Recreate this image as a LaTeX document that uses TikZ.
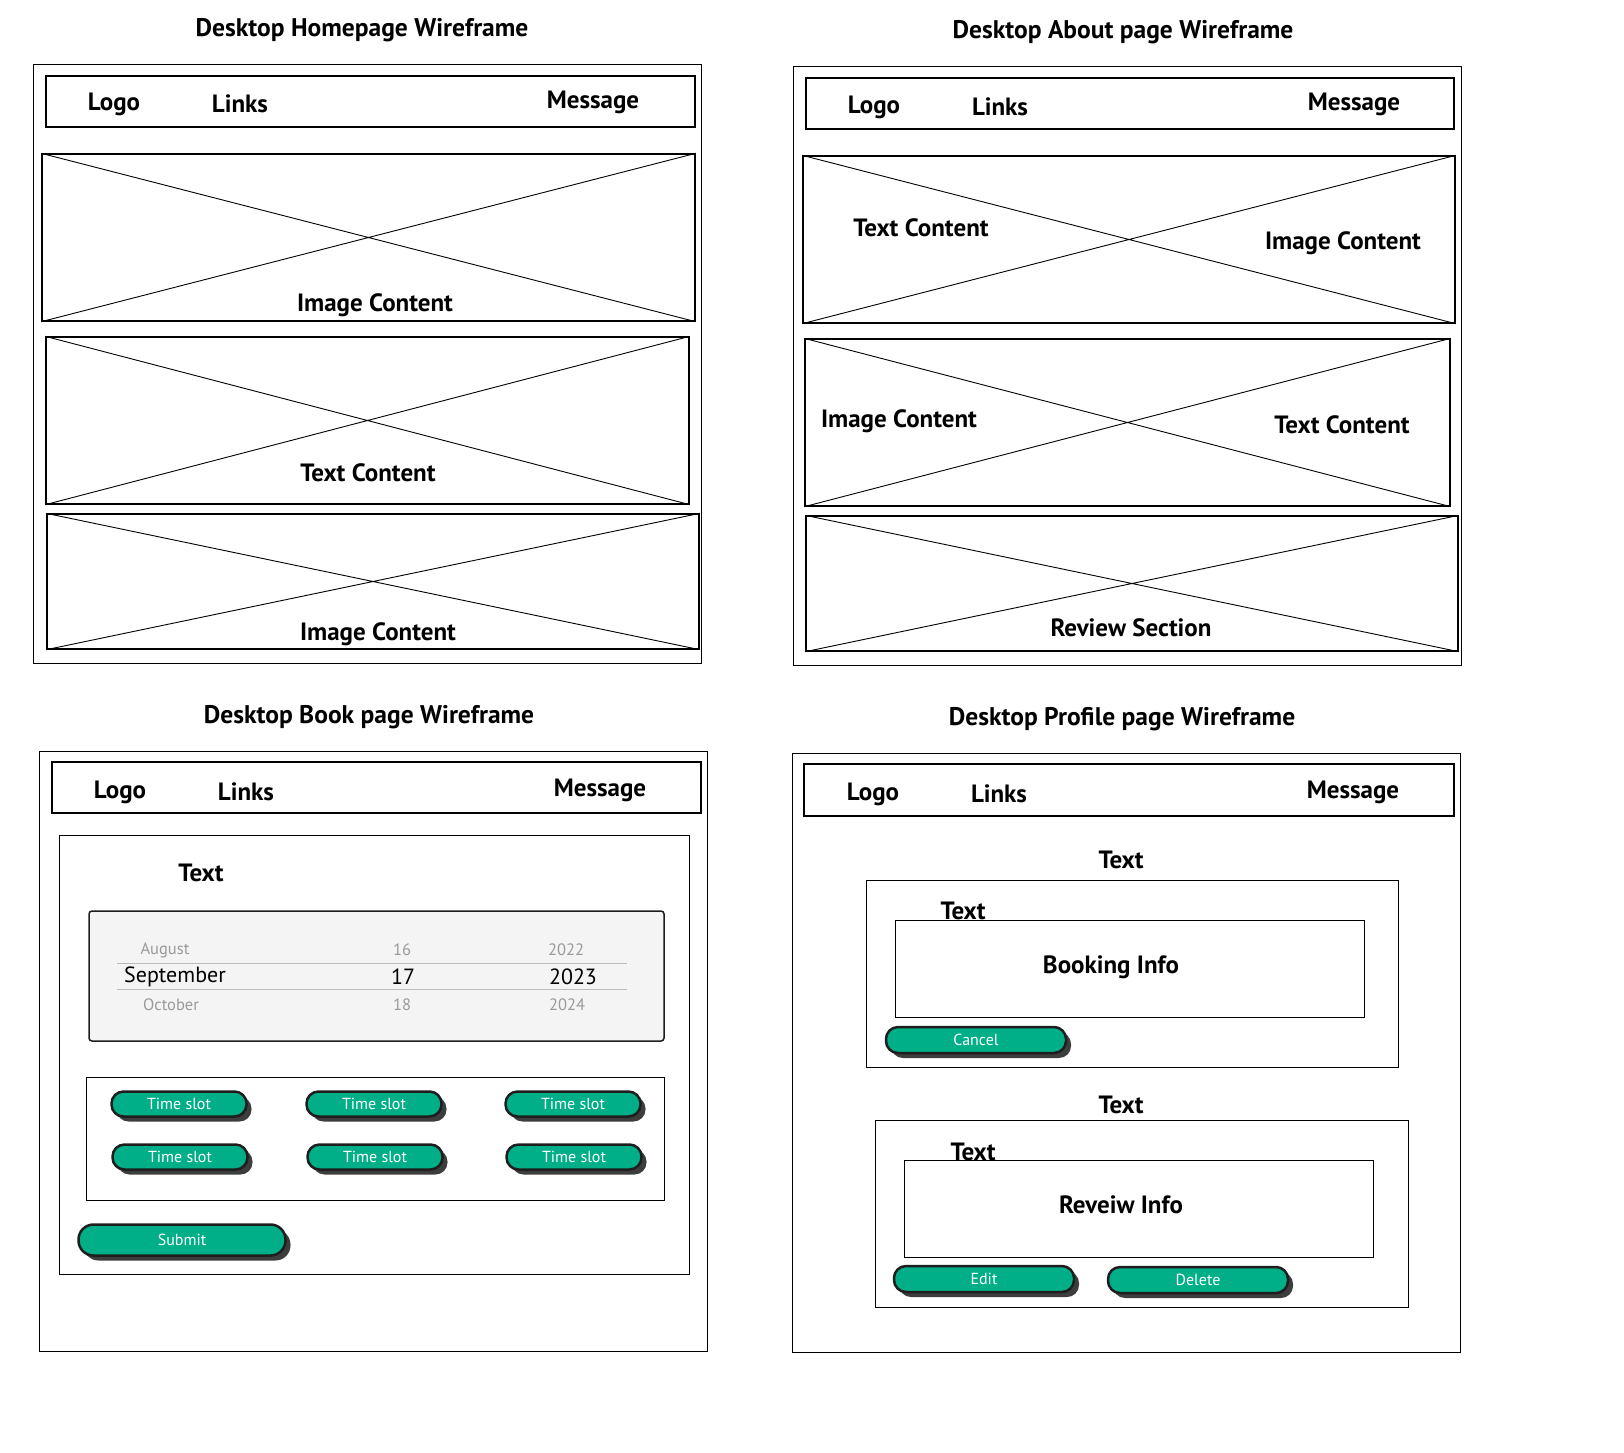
\documentclass[tikz,border=0pt]{standalone}
\usepackage{fontspec}
\setmainfont{PT Sans}
\usetikzlibrary{shadows}
\definecolor{btngreen}{HTML}{00AF87}
\definecolor{btnedge}{HTML}{1E1E1E}
\definecolor{btnshade}{HTML}{3D3D3D}
\definecolor{pickerfill}{HTML}{F4F4F4}
\definecolor{pickergrey}{HTML}{9A9A9A}
\definecolor{pickerrule}{HTML}{BBBBBB}
\tikzstyle{pageframe}=[draw, line width=1pt, minimum width=668pt, minimum height=599pt]
\tikzstyle{navbar}=[draw, line width=1.4pt, minimum width=649pt, minimum height=51pt]
\tikzstyle{imagebox}=[draw, line width=1.3pt]
\tikzstyle{infobox}=[draw, line width=1pt]
\tikzstyle{cross}=[line width=0.9pt]
\tikzstyle{heading}=[font=\fontsize{25.5}{30}\selectfont\bfseries, inner sep=0pt, yshift=-2.5pt]
\tikzstyle{wftext}=[font=\fontsize{25}{29}\selectfont\bfseries, inner sep=0pt, yshift=-3pt]
\tikzstyle{slotbutton}=[fill=btngreen, draw=btnedge, line width=2.5pt, rounded corners=12pt,
  general shadow={fill=btnshade, shadow xshift=5pt, shadow yshift=-5pt},
  text=white, font=\fontsize{16}{19}\selectfont, minimum width=135pt, minimum height=25pt, inner sep=0pt]
\tikzstyle{pickertext}=[font=\fontsize{16.5}{19}\selectfont, text=pickergrey, inner sep=0pt]

\begin{document}
\begin{tikzpicture}[x=1pt, y=-1pt]
  \useasboundingbox (0,0) rectangle (1624,1452);

  % homepage
  \node[heading] (home_title) at (362, 28) {Desktop Homepage Wireframe};
  \node[pageframe] (home) at (367, 363.5) {};
  \node[navbar] (home_nav) at (370.5, 101.5) {};
  \node[wftext] (home_logo) at (114, 101) {Logo};
  \node[wftext] (home_links) at (240, 101) {Links};
  \node[wftext] (home_msg) at (593, 99) {Message};
  \node[imagebox, minimum width=653pt, minimum height=167pt] (home_img1) at (368.5, 237.5) {};
  \node[imagebox, minimum width=643pt, minimum height=167pt] (home_txt) at (367.5, 420.5) {};
  \node[imagebox, minimum width=652pt, minimum height=135pt] (home_img2) at (373, 581.5) {};
  \foreach \b in {home_img1, home_txt, home_img2}
    \draw[cross] (\b.north west) -- (\b.south east) (\b.south west) -- (\b.north east);
  \node[wftext] at (375, 302) {Image Content};
  \node[wftext] at (368, 470) {Text Content};
  \node[wftext] at (378, 631) {Image Content};

  % about page
  \node[heading] (about_title) at (1123, 30) {Desktop About page Wireframe};
  \node[pageframe] (about) at (1127, 365.5) {};
  \node[navbar, minimum width=648pt] (about_nav) at (1130, 103.5) {};
  \node[wftext] (about_logo) at (874, 104) {Logo};
  \node[wftext] (about_links) at (1000, 104) {Links};
  \node[wftext] (about_msg) at (1354, 101) {Message};
  \node[imagebox, minimum width=652pt, minimum height=167pt] (about_b1) at (1129, 239.5) {};
  \node[imagebox, minimum width=645pt, minimum height=167pt] (about_b2) at (1127.5, 422.5) {};
  \node[imagebox, minimum width=652pt, minimum height=135pt] (about_b3) at (1132, 583.5) {};
  \foreach \b in {about_b1, about_b2, about_b3}
    \draw[cross] (\b.north west) -- (\b.south east) (\b.south west) -- (\b.north east);
  \node[wftext] at (921, 225) {Text Content};
  \node[wftext] at (1343, 240) {Image Content};
  \node[wftext] at (899, 418) {Image Content};
  \node[wftext] at (1342, 422) {Text Content};
  \node[wftext] at (1131, 625) {Review Section};

  % book page
  \node[heading] (book_title) at (369, 715) {Desktop Book page Wireframe};
  \node[pageframe, minimum height=600pt] (book) at (373, 1051) {};
  \node[navbar] (book_nav) at (376.5, 787.5) {};
  \node[wftext] (book_logo) at (120, 789) {Logo};
  \node[wftext] (book_links) at (246, 789) {Links};
  \node[wftext] (book_msg) at (600, 787) {Message};
  \node[infobox, minimum width=630pt, minimum height=439pt] (book_inner) at (374, 1054.5) {};
  \node[wftext] (book_text) at (201, 870) {Text};
  \node[draw=btnedge, fill=pickerfill, line width=1.5pt, rounded corners=3pt,
    minimum width=575pt, minimum height=130pt] (picker) at (376.5, 976) {};
  \draw[pickerrule, line width=1pt] (117, 963) -- (627, 963) (117, 989) -- (627, 989);
  \node[pickertext] at (165, 950) {August};
  \node[pickertext] at (402, 950) {16};
  \node[pickertext] at (566, 950) {2022};
  \node[pickertext, text=black, font=\fontsize{22}{25}\selectfont] at (175, 977) {September};
  \node[pickertext, text=black, font=\fontsize{22}{25}\selectfont] at (403, 977) {17};
  \node[pickertext, text=black, font=\fontsize{22}{25}\selectfont] at (573, 977) {2023};
  \node[pickertext] at (171, 1005) {October};
  \node[pickertext] at (402, 1005) {18};
  \node[pickertext] at (567, 1005) {2024};
  \node[infobox, minimum width=578pt, minimum height=123pt] (slots) at (375, 1138.5) {};
  \foreach \x/\n in {179/a, 374/b, 573/c} {
    \node[slotbutton] (slot1\n) at (\x, 1104) {Time slot};
    \node[slotbutton] (slot2\n) at (\x+1, 1157) {Time slot};
  }
  \node[slotbutton, minimum width=207pt, minimum height=31pt, rounded corners=15pt] (submit) at (182, 1240) {Submit};

  % profile page
  \node[heading] (prof_title) at (1122, 717) {Desktop Profile page Wireframe};
  \node[pageframe] (prof) at (1126, 1052.5) {};
  \node[navbar, minimum width=650pt, minimum height=52pt] (prof_nav) at (1129, 790) {};
  \node[wftext] (prof_logo) at (873, 791) {Logo};
  \node[wftext] (prof_links) at (999, 791) {Links};
  \node[wftext] (prof_msg) at (1353, 789) {Message};
  \node[wftext] (prof_text1) at (1121, 857) {Text};
  \node[infobox, minimum width=532pt, minimum height=187pt] (booking) at (1132, 973.5) {};
  \node[wftext] at (963, 908) {Text};
  \node[infobox, minimum width=469pt, minimum height=97pt] (booking_info) at (1129.5, 968.5) {};
  \node[wftext] at (1111, 964) {Booking Info};
  \node[slotbutton, minimum width=180pt, minimum height=26pt] (cancel) at (976, 1040) {Cancel};
  \node[wftext] (prof_text2) at (1121, 1102) {Text};
  \node[infobox, minimum width=533pt, minimum height=187pt] (review) at (1141.5, 1213.5) {};
  \node[wftext] at (973, 1149) {Text};
  \node[infobox, minimum width=469pt, minimum height=97pt] (review_info) at (1138.5, 1208.5) {};
  \node[wftext] at (1121, 1202) {Reveiw Info};
  \node[slotbutton, minimum width=180pt, minimum height=26pt] (edit) at (984, 1279) {Edit};
  \node[slotbutton, minimum width=180pt, minimum height=26pt] (delete) at (1198, 1280) {Delete};
\end{tikzpicture}
\end{document}
